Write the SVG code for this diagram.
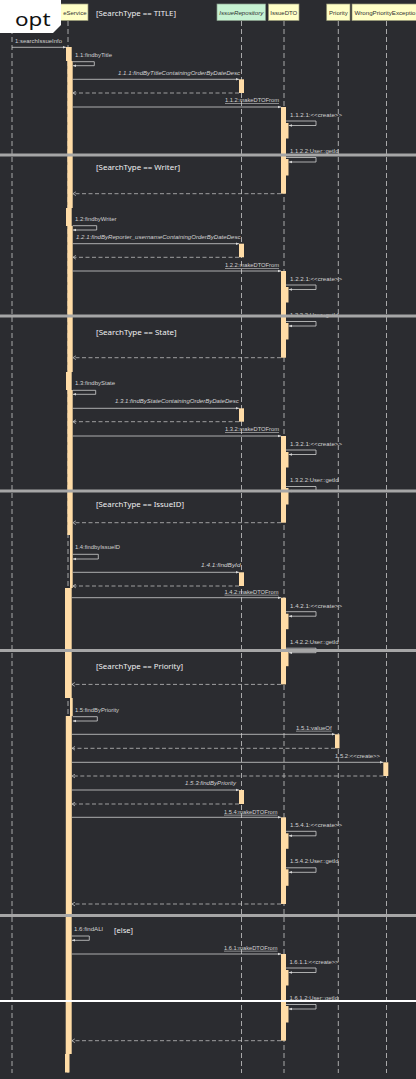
<svg xmlns="http://www.w3.org/2000/svg" width="416" height="1079" viewBox="0 0 416 1079">
<style>
.bg{fill:#2b2c30}
.ll{stroke:#b8b8b8;stroke-width:0.9;stroke-dasharray:5 3;fill:none}
.hd{fill:#ffffc6;stroke:#9a9a78;stroke-width:0.7}
.hdg{fill:#c6f2d2;stroke:#8aa08e;stroke-width:0.7}
.ht{font-family:"Liberation Sans",Arial,sans-serif;font-size:6px;fill:#303030}
.act{fill:#ffdca6}
.msg{stroke:#cfcfcf;stroke-width:0.8;fill:none}
.ret{stroke:#bdbdbd;stroke-width:0.8;fill:none;stroke-dasharray:4 2.5}
.m{font-family:"Liberation Sans",Arial,sans-serif;font-size:5.8px;fill:#d2d2d2}
.i{font-style:italic}
.u{text-decoration:underline}
.g{font-family:"Noto Sans","Open Sans",sans-serif;font-size:7.6px;fill:#f0f0f0}
.sep{stroke:#a6a6a6;stroke-width:3}
</style>
<defs>
<marker id="ah" markerUnits="userSpaceOnUse" markerWidth="4" markerHeight="4" refX="3.5" refY="2" orient="auto"><path d="M0,0.6 L3.5,2 L0,3.4 z" fill="#d8d8d8"/></marker>
<marker id="oh" markerUnits="userSpaceOnUse" markerWidth="4" markerHeight="5" refX="3" refY="2.5" orient="auto"><path d="M0,0.6 L3,2.5 L0,4.4" fill="none" stroke="#d0d0d0" stroke-width="0.7"/></marker>
</defs>
<rect class="bg" x="0" y="0" width="416" height="1079"/>

<g id="p-caller"><line class="ll" x1="12" y1="21" x2="12" y2="1073"/></g>
<g id="p-issueService">
<line class="ll" x1="68" y1="21" x2="68" y2="1073"/>
<rect class="hd" x="46" y="4" width="42" height="16.5"/>
<text class="ht" x="86.5" y="14.5" text-anchor="end">eService</text>
</g>
<g id="p-issueRepository">
<line class="ll" x1="241.5" y1="21" x2="241.5" y2="1073"/>
<rect class="hdg" x="217" y="4" width="48.5" height="16.5"/>
<text class="ht i" x="241.3" y="14.5" text-anchor="middle" textLength="44" lengthAdjust="spacingAndGlyphs">IssueRepository</text>
</g>
<g id="p-issueDTO">
<line class="ll" x1="284" y1="21" x2="284" y2="1073"/>
<rect class="hd" x="268.5" y="4" width="30.5" height="16.5"/>
<text class="ht" x="283.8" y="14.5" text-anchor="middle">IssueDTO</text>
</g>
<g id="p-priority">
<line class="ll" x1="338.3" y1="21" x2="338.3" y2="1073"/>
<rect class="hd" x="326.7" y="4" width="23.3" height="16.5"/>
<text class="ht" x="338.4" y="14.5" text-anchor="middle">Priority</text>
</g>
<g id="p-wrongPriorityException">
<line class="ll" x1="386.5" y1="21" x2="386.5" y2="1073"/>
<rect class="hd" x="352" y="4" width="70" height="16.5"/>
<text class="ht" x="354.5" y="14.5" textLength="61" lengthAdjust="spacingAndGlyphs">WrongPriorityExceptio</text>
</g>

<g id="activations">
<rect class="act" x="66" y="47" width="5.7" height="14"/>
<rect class="act" x="67.3" y="61" width="5.4" height="147"/>
<rect class="act" x="66" y="208" width="5.7" height="18"/>
<rect class="act" x="67.3" y="226" width="5.4" height="146"/>
<rect class="act" x="66" y="372" width="5.7" height="18"/>
<rect class="act" x="67.3" y="390" width="5.4" height="145"/>
<rect class="act" x="70" y="535" width="2.7" height="53"/>
<rect class="act" x="65" y="588" width="6.7" height="110"/>
<rect class="act" x="70" y="698" width="2.7" height="18"/>
<rect class="act" x="65.8" y="716" width="6" height="199"/>
<rect class="act" x="65.7" y="915" width="6" height="139"/>
<rect class="act" x="65" y="1054" width="4.5" height="18.5"/>

<rect class="act" x="239" y="79.3" width="5" height="13.7"/>
<rect class="act" x="239" y="243.7" width="5" height="13.6"/>
<rect class="act" x="239" y="408.3" width="5" height="13.4"/>
<rect class="act" x="239" y="572.3" width="5" height="13.7"/>
<rect class="act" x="239" y="790" width="5" height="14"/>
<rect class="act" x="335" y="734.3" width="4.5" height="14"/>
<rect class="act" x="383.3" y="762.3" width="5" height="13.7"/>

<rect class="act" x="281" y="107" width="5" height="86.7"/>
<rect class="act" x="283.5" y="123" width="5" height="15.5"/>
<rect class="act" x="283.5" y="159" width="5" height="16.5"/>
<rect class="act" x="281" y="271" width="5" height="86.7"/>
<rect class="act" x="283.5" y="287" width="5" height="15.5"/>
<rect class="act" x="283.5" y="323" width="5" height="16.5"/>
<rect class="act" x="281" y="436" width="5" height="86.7"/>
<rect class="act" x="283.5" y="452" width="5" height="15.5"/>
<rect class="act" x="283.5" y="488" width="5" height="16.5"/>
<rect class="act" x="281" y="597.7" width="5" height="86.7"/>
<rect class="act" x="283.5" y="613.7" width="5" height="15.5"/>
<rect class="act" x="283.5" y="649.7" width="5" height="16.5"/>
<rect class="act" x="281" y="817.3" width="5" height="86.7"/>
<rect class="act" x="283.5" y="833.3" width="5" height="15.5"/>
<rect class="act" x="283.5" y="869.3" width="5" height="16.5"/>
<rect class="act" x="281" y="954" width="5" height="86.7"/>
<rect class="act" x="283.5" y="970" width="5" height="15.5"/>
<rect class="act" x="283.5" y="1006" width="5" height="16.5"/>
</g>

<g id="connectors">
<path class="msg" d="M12,47.3 H66" marker-end="url(#ah)"/>
<path class="msg" d="M72.7,61.7 H94.3 V65.7 H72.9" marker-end="url(#ah)"/>
<path class="msg" d="M72.7,79.3 H239" marker-end="url(#ah)"/>
<path class="ret" d="M239,93 H72.9" marker-end="url(#oh)"/>
<path class="msg" d="M72.7,107 H281" marker-end="url(#ah)"/>
<path class="msg" d="M286,121 H316 V125.5 H288.7" marker-end="url(#ah)"/>
<path class="msg" d="M286,157.5 H316 V162 H288.7" marker-end="url(#ah)"/>
<path class="ret" d="M281,193.7 H72.9" marker-end="url(#oh)"/>

<path class="msg" d="M72.7,225.7 H96.7 V230 H72.9" marker-end="url(#ah)"/>
<path class="msg" d="M72.7,243.7 H239" marker-end="url(#ah)"/>
<path class="ret" d="M239,257.3 H72.9" marker-end="url(#oh)"/>
<path class="msg" d="M72.7,271 H281" marker-end="url(#ah)"/>
<path class="msg" d="M286,285 H316 V289.5 H288.7" marker-end="url(#ah)"/>
<path class="msg" d="M286,321.5 H316 V326 H288.7" marker-end="url(#ah)"/>
<path class="ret" d="M281,357.7 H72.9" marker-end="url(#oh)"/>

<path class="msg" d="M72.7,390.3 H95.7 V394.3 H72.9" marker-end="url(#ah)"/>
<path class="msg" d="M72.7,408.3 H239" marker-end="url(#ah)"/>
<path class="ret" d="M239,421.7 H72.9" marker-end="url(#oh)"/>
<path class="msg" d="M72.7,436 H281" marker-end="url(#ah)"/>
<path class="msg" d="M286,450 H316 V454.5 H288.7" marker-end="url(#ah)"/>
<path class="msg" d="M286,486.5 H316 V491 H288.7" marker-end="url(#ah)"/>
<path class="ret" d="M281,522.7 H72.9" marker-end="url(#oh)"/>

<path class="msg" d="M72.7,554.3 H98.3 V559 H72.9" marker-end="url(#ah)"/>
<path class="msg" d="M72.7,572.3 H239" marker-end="url(#ah)"/>
<path class="ret" d="M239,586 H72.9" marker-end="url(#oh)"/>
<path class="msg" d="M71.7,597.7 H281" marker-end="url(#ah)"/>
<path class="msg" d="M286,611.7 H316 V616.2 H288.7" marker-end="url(#ah)"/>
<path class="msg" d="M286,648.2 H316 V652.7 H288.7" marker-end="url(#ah)"/>
<path class="ret" d="M281,684.4 H71.9" marker-end="url(#oh)"/>

<path class="msg" d="M72.7,716.7 H97.3 V721 H72.9" marker-end="url(#ah)"/>
<path class="msg" d="M71.8,734.3 H335" marker-end="url(#ah)"/>
<path class="ret" d="M335,748.3 H72" marker-end="url(#oh)"/>
<path class="msg" d="M71.8,762.3 H383.3" marker-end="url(#ah)"/>
<path class="ret" d="M383.3,776 H72" marker-end="url(#oh)"/>
<path class="msg" d="M71.8,790 H239" marker-end="url(#ah)"/>
<path class="ret" d="M239,804 H72" marker-end="url(#oh)"/>
<path class="msg" d="M71.8,817.3 H281" marker-end="url(#ah)"/>
<path class="msg" d="M286,831.3 H316 V835.8 H288.7" marker-end="url(#ah)"/>
<path class="msg" d="M286,867.8 H316 V872.3 H288.7" marker-end="url(#ah)"/>
<path class="ret" d="M281,904 H72" marker-end="url(#oh)"/>

<path class="msg" d="M71.7,936 H89.3 V940.3 H71.9" marker-end="url(#ah)"/>
<path class="msg" d="M71.7,954 H281" marker-end="url(#ah)"/>
<path class="msg" d="M286,968 H316 V972.5 H288.7" marker-end="url(#ah)"/>
<path class="msg" d="M286,1004.5 H316 V1009 H288.7" marker-end="url(#ah)"/>
<path class="ret" d="M281,1040.7 H71.9" marker-end="url(#oh)"/>
</g>

<g id="labels">
<text class="m" x="15" y="43.1" textLength="47" lengthAdjust="spacingAndGlyphs">1:searchIssueInfo</text>
<text class="m" x="75" y="57.1" textLength="37" lengthAdjust="spacingAndGlyphs">1.1:findbyTitle</text>
<text class="m i" x="118" y="75.1" textLength="122" lengthAdjust="spacingAndGlyphs">1.1.1:findByTitleContainingOrderByDateDesc</text>
<text class="m u" x="225" y="102.1" textLength="54" lengthAdjust="spacingAndGlyphs">1.1.2:makeDTOFrom</text>
<text class="m" x="290" y="116.8" textLength="52" lengthAdjust="spacingAndGlyphs">1.1.2.1:&lt;&lt;create&gt;&gt;</text>
<text class="m" x="290" y="153.1" textLength="48.5" lengthAdjust="spacingAndGlyphs">1.1.2.2:User::getId</text>

<text class="m" x="75" y="221.1" textLength="41.5" lengthAdjust="spacingAndGlyphs">1.2:findbyWriter</text>
<text class="m i" x="76" y="238.8" textLength="164.5" lengthAdjust="spacingAndGlyphs">1.2.1:findByReporter_usernameContainingOrderByDateDesc</text>
<text class="m u" x="225" y="267.1" textLength="54" lengthAdjust="spacingAndGlyphs">1.2.2:makeDTOFrom</text>
<text class="m" x="290" y="280.8" textLength="52" lengthAdjust="spacingAndGlyphs">1.2.2.1:&lt;&lt;create&gt;&gt;</text>
<text class="m" x="290" y="317.1" textLength="48.5" lengthAdjust="spacingAndGlyphs">1.2.2.2:User::getId</text>

<text class="m" x="75" y="385.4" textLength="40" lengthAdjust="spacingAndGlyphs">1.3:findbyState</text>
<text class="m i" x="115" y="403.1" textLength="123.7" lengthAdjust="spacingAndGlyphs">1.3.1:findByStateContainingOrderByDateDesc</text>
<text class="m u" x="225" y="431.1" textLength="54" lengthAdjust="spacingAndGlyphs">1.3.2:makeDTOFrom</text>
<text class="m" x="290" y="445.8" textLength="52" lengthAdjust="spacingAndGlyphs">1.3.2.1:&lt;&lt;create&gt;&gt;</text>
<text class="m" x="290" y="482.1" textLength="48.5" lengthAdjust="spacingAndGlyphs">1.3.2.2:User::getId</text>

<text class="m" x="75" y="549.4" textLength="45" lengthAdjust="spacingAndGlyphs">1.4:findbyIssueID</text>
<text class="m i" x="201" y="567.4" textLength="39.5" lengthAdjust="spacingAndGlyphs">1.4.1:findById</text>
<text class="m u" x="224.5" y="593.8" textLength="54" lengthAdjust="spacingAndGlyphs">1.4.2:makeDTOFrom</text>
<text class="m" x="290" y="607.5" textLength="52" lengthAdjust="spacingAndGlyphs">1.4.2.1:&lt;&lt;create&gt;&gt;</text>
<text class="m" x="290" y="643.8" textLength="48.5" lengthAdjust="spacingAndGlyphs">1.4.2.2:User::getId</text>

<text class="m" x="75" y="712.1" textLength="44" lengthAdjust="spacingAndGlyphs">1.5:findByPriority</text>
<text class="m u" x="296" y="729.8" textLength="35.7" lengthAdjust="spacingAndGlyphs">1.5.1:valueOf</text>
<text class="m" x="335" y="758.1" textLength="45" lengthAdjust="spacingAndGlyphs">1.5.2:&lt;&lt;create&gt;&gt;</text>
<text class="m i" x="185" y="785.4" textLength="51" lengthAdjust="spacingAndGlyphs">1.5.3:findByPriority</text>
<text class="m u" x="224" y="813.8" textLength="53.5" lengthAdjust="spacingAndGlyphs">1.5.4:makeDTOFrom</text>
<text class="m" x="290" y="827.1" textLength="52" lengthAdjust="spacingAndGlyphs">1.5.4.1:&lt;&lt;create&gt;&gt;</text>
<text class="m" x="290" y="863.4" textLength="48.5" lengthAdjust="spacingAndGlyphs">1.5.4.2:User::getId</text>

<text class="m" x="74" y="931.4" textLength="29" lengthAdjust="spacingAndGlyphs">1.6:findALl</text>
<text class="m u" x="224" y="949.8" textLength="53.5" lengthAdjust="spacingAndGlyphs">1.6.1:makeDTOFrom</text>
<text class="m" x="289.5" y="963.8" textLength="49" lengthAdjust="spacingAndGlyphs">1.6.1.1:&lt;&lt;create&gt;&gt;</text>
<text class="m" x="289.5" y="1000.1" textLength="48.5" lengthAdjust="spacingAndGlyphs">1.6.1.2:User::getId</text>
</g>

<g id="guards">
<text class="g" x="96" y="16.4" textLength="80" lengthAdjust="spacingAndGlyphs">[SearchType == TITLE]</text>
<text class="g" x="96" y="170.1" textLength="84" lengthAdjust="spacingAndGlyphs">[SearchType == Writer]</text>
<text class="g" x="96" y="334.5" textLength="80.7" lengthAdjust="spacingAndGlyphs">[SearchType == State]</text>
<text class="g" x="96" y="507.1" textLength="88" lengthAdjust="spacingAndGlyphs">[SearchType == IssueID]</text>
<text class="g" x="96" y="668.8" textLength="87" lengthAdjust="spacingAndGlyphs">[SearchType == Priority]</text>
<text class="g" x="114" y="932.8" textLength="19" lengthAdjust="spacingAndGlyphs">[else]</text>
</g>

<g id="separators">
<line class="sep" x1="0" y1="155" x2="416" y2="155"/>
<line class="sep" x1="0" y1="316" x2="416" y2="316"/>
<line class="sep" x1="0" y1="491" x2="416" y2="491"/>
<line class="sep" x1="0" y1="650.5" x2="416" y2="650.5"/>
<line class="sep" x1="0" y1="915.5" x2="416" y2="915.5"/>
<line x1="0" y1="1001" x2="416" y2="1001" stroke="#ffffff" stroke-width="2"/>
</g>

<g id="opt-frame">
<path d="M0,0 H61 V25 L53,33 H0 Z" fill="#ffffff"/>
<text x="15" y="25.5" font-family="Noto Sans, Open Sans, sans-serif" font-size="18" fill="#111111" textLength="35.5" lengthAdjust="spacingAndGlyphs">opt</text>
</g>
</svg>
